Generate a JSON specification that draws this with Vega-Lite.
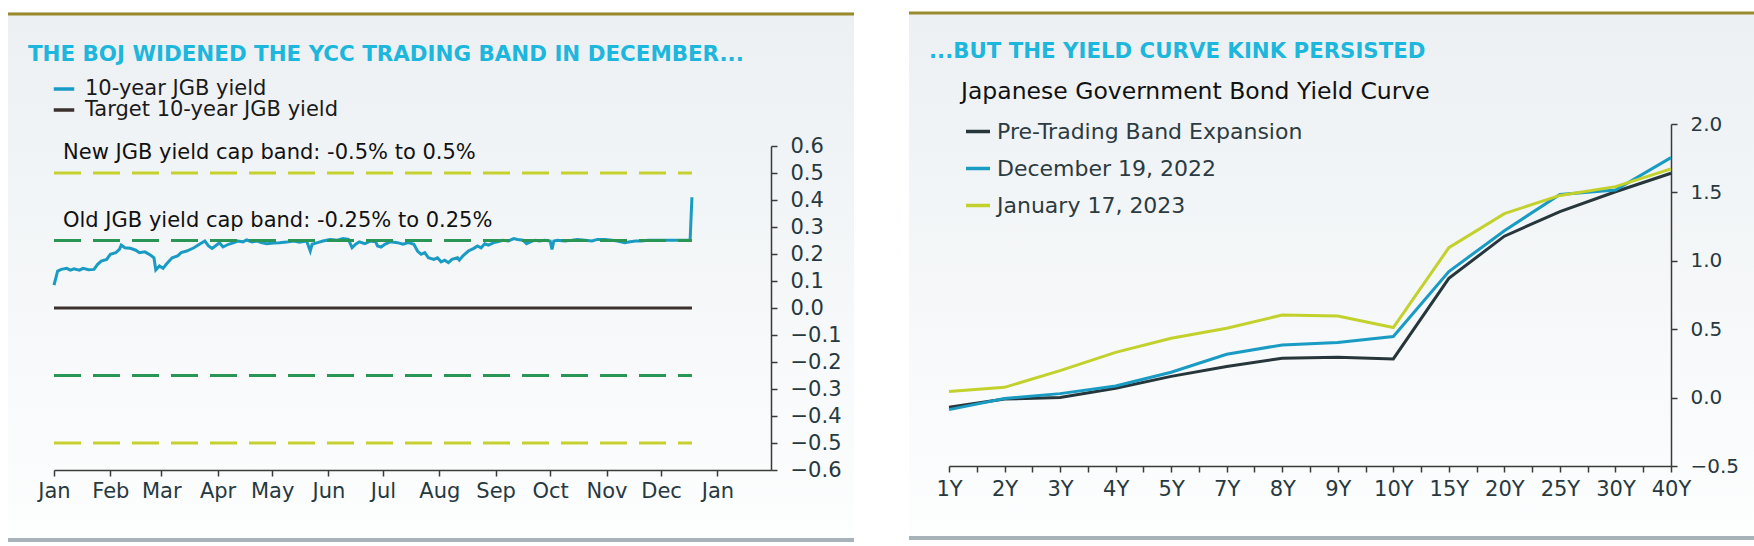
{
  "$schema": "https://vega.github.io/schema/vega-lite/v6.json",
  "padding": {"left": 6, "top": 11, "right": 0, "bottom": 0},
  "bounds": "flush",
  "spacing": 55,
  "background": "white",
  "resolve": {"scale": {"color": "independent"}, "legend": {"color": "independent"}},
  "config": {
    "font": "DejaVu Sans",
    "view": {"stroke": null, "fill": {"gradient": "linear", "x1": 0, "y1": 0, "x2": 0, "y2": 1, "stops": [{"offset": 0, "color": "#ecf0f3"}, {"offset": 1, "color": "#fdfefe"}]}},
    "axis": {"domainColor": "#3a3a3a", "domainWidth": 1.5, "tickColor": "#3a3a3a", "tickWidth": 1.5, "tickSize": 6, "labelColor": "#27393f", "labelFont": "DejaVu Sans", "grid": false, "title": null, "labelFlush": false, "labelOverlap": false}
  },
  "hconcat": [
    {
      "width": 846,
      "height": 529,
      "title": {"text": "THE BOJ WIDENED THE YCC TRADING BAND IN DECEMBER...", "anchor": "start", "frame": "group", "orient": "top", "dx": 20, "dy": 70, "offset": 0, "baseline": "alphabetic", "fontSize": 21.4, "fontWeight": "bold", "color": "#1db6dc", "font": "DejaVu Sans"},
      "layer": [
        {
          "data": {"values": [{}]},
          "mark": {"type": "rule", "color": "#998a2c", "strokeWidth": 3},
          "encoding": {"y": {"datum": 1.0889}}
        },
        {
          "data": {"values": [{}]},
          "mark": {"type": "rule", "color": "#a8b3b9", "strokeWidth": 4},
          "encoding": {"y": {"datum": -0.859}}
        },
        {
          "data": {"values": [
            {"s": "Target 10-year JGB yield", "d": "2022-01-01", "v": 0},
            {"s": "Target 10-year JGB yield", "d": "2022-12-18", "v": 0}
          ]},
          "mark": {"type": "line", "strokeWidth": 3},
          "encoding": {
            "x": {"field": "d", "type": "temporal"},
            "y": {"field": "v", "type": "quantitative"},
            "color": {"field": "s", "type": "nominal"}
          }
        },
        {
          "data": {"values": [
            {"s": "10-year JGB yield", "d": "2022-01-01", "v": 0.085},
            {"s": "10-year JGB yield", "d": "2022-01-03", "v": 0.137},
            {"s": "10-year JGB yield", "d": "2022-01-05", "v": 0.143},
            {"s": "10-year JGB yield", "d": "2022-01-08", "v": 0.147},
            {"s": "10-year JGB yield", "d": "2022-01-10", "v": 0.14},
            {"s": "10-year JGB yield", "d": "2022-01-12", "v": 0.145},
            {"s": "10-year JGB yield", "d": "2022-01-15", "v": 0.14},
            {"s": "10-year JGB yield", "d": "2022-01-17", "v": 0.147},
            {"s": "10-year JGB yield", "d": "2022-01-20", "v": 0.142},
            {"s": "10-year JGB yield", "d": "2022-01-23", "v": 0.143},
            {"s": "10-year JGB yield", "d": "2022-01-25", "v": 0.162},
            {"s": "10-year JGB yield", "d": "2022-01-27", "v": 0.174},
            {"s": "10-year JGB yield", "d": "2022-01-30", "v": 0.18},
            {"s": "10-year JGB yield", "d": "2022-02-01", "v": 0.199},
            {"s": "10-year JGB yield", "d": "2022-02-04", "v": 0.205},
            {"s": "10-year JGB yield", "d": "2022-02-06", "v": 0.217},
            {"s": "10-year JGB yield", "d": "2022-02-07", "v": 0.233},
            {"s": "10-year JGB yield", "d": "2022-02-09", "v": 0.223},
            {"s": "10-year JGB yield", "d": "2022-02-12", "v": 0.221},
            {"s": "10-year JGB yield", "d": "2022-02-15", "v": 0.214},
            {"s": "10-year JGB yield", "d": "2022-02-17", "v": 0.205},
            {"s": "10-year JGB yield", "d": "2022-02-20", "v": 0.208},
            {"s": "10-year JGB yield", "d": "2022-02-23", "v": 0.196},
            {"s": "10-year JGB yield", "d": "2022-02-25", "v": 0.186},
            {"s": "10-year JGB yield", "d": "2022-02-26", "v": 0.141},
            {"s": "10-year JGB yield", "d": "2022-02-28", "v": 0.156},
            {"s": "10-year JGB yield", "d": "2022-03-02", "v": 0.147},
            {"s": "10-year JGB yield", "d": "2022-03-04", "v": 0.164},
            {"s": "10-year JGB yield", "d": "2022-03-07", "v": 0.186},
            {"s": "10-year JGB yield", "d": "2022-03-10", "v": 0.193},
            {"s": "10-year JGB yield", "d": "2022-03-12", "v": 0.205},
            {"s": "10-year JGB yield", "d": "2022-03-15", "v": 0.211},
            {"s": "10-year JGB yield", "d": "2022-03-19", "v": 0.223},
            {"s": "10-year JGB yield", "d": "2022-03-22", "v": 0.236},
            {"s": "10-year JGB yield", "d": "2022-03-25", "v": 0.248},
            {"s": "10-year JGB yield", "d": "2022-03-27", "v": 0.23},
            {"s": "10-year JGB yield", "d": "2022-03-29", "v": 0.221},
            {"s": "10-year JGB yield", "d": "2022-04-01", "v": 0.236},
            {"s": "10-year JGB yield", "d": "2022-04-02", "v": 0.242},
            {"s": "10-year JGB yield", "d": "2022-04-04", "v": 0.226},
            {"s": "10-year JGB yield", "d": "2022-04-07", "v": 0.236},
            {"s": "10-year JGB yield", "d": "2022-04-10", "v": 0.242},
            {"s": "10-year JGB yield", "d": "2022-04-12", "v": 0.248},
            {"s": "10-year JGB yield", "d": "2022-04-15", "v": 0.245},
            {"s": "10-year JGB yield", "d": "2022-04-17", "v": 0.252},
            {"s": "10-year JGB yield", "d": "2022-04-20", "v": 0.245},
            {"s": "10-year JGB yield", "d": "2022-04-23", "v": 0.248},
            {"s": "10-year JGB yield", "d": "2022-04-25", "v": 0.242},
            {"s": "10-year JGB yield", "d": "2022-04-28", "v": 0.238},
            {"s": "10-year JGB yield", "d": "2022-05-02", "v": 0.241},
            {"s": "10-year JGB yield", "d": "2022-05-05", "v": 0.242},
            {"s": "10-year JGB yield", "d": "2022-05-09", "v": 0.244},
            {"s": "10-year JGB yield", "d": "2022-05-13", "v": 0.248},
            {"s": "10-year JGB yield", "d": "2022-05-16", "v": 0.244},
            {"s": "10-year JGB yield", "d": "2022-05-20", "v": 0.248},
            {"s": "10-year JGB yield", "d": "2022-05-22", "v": 0.211},
            {"s": "10-year JGB yield", "d": "2022-05-23", "v": 0.236},
            {"s": "10-year JGB yield", "d": "2022-05-26", "v": 0.242},
            {"s": "10-year JGB yield", "d": "2022-05-29", "v": 0.248},
            {"s": "10-year JGB yield", "d": "2022-06-02", "v": 0.254},
            {"s": "10-year JGB yield", "d": "2022-06-06", "v": 0.251},
            {"s": "10-year JGB yield", "d": "2022-06-09", "v": 0.257},
            {"s": "10-year JGB yield", "d": "2022-06-12", "v": 0.254},
            {"s": "10-year JGB yield", "d": "2022-06-14", "v": 0.223},
            {"s": "10-year JGB yield", "d": "2022-06-16", "v": 0.236},
            {"s": "10-year JGB yield", "d": "2022-06-18", "v": 0.245},
            {"s": "10-year JGB yield", "d": "2022-06-21", "v": 0.238},
            {"s": "10-year JGB yield", "d": "2022-06-24", "v": 0.248},
            {"s": "10-year JGB yield", "d": "2022-06-27", "v": 0.245},
            {"s": "10-year JGB yield", "d": "2022-06-28", "v": 0.23},
            {"s": "10-year JGB yield", "d": "2022-06-30", "v": 0.226},
            {"s": "10-year JGB yield", "d": "2022-07-02", "v": 0.236},
            {"s": "10-year JGB yield", "d": "2022-07-05", "v": 0.245},
            {"s": "10-year JGB yield", "d": "2022-07-09", "v": 0.242},
            {"s": "10-year JGB yield", "d": "2022-07-12", "v": 0.236},
            {"s": "10-year JGB yield", "d": "2022-07-15", "v": 0.242},
            {"s": "10-year JGB yield", "d": "2022-07-18", "v": 0.236},
            {"s": "10-year JGB yield", "d": "2022-07-20", "v": 0.211},
            {"s": "10-year JGB yield", "d": "2022-07-22", "v": 0.199},
            {"s": "10-year JGB yield", "d": "2022-07-24", "v": 0.205},
            {"s": "10-year JGB yield", "d": "2022-07-26", "v": 0.186},
            {"s": "10-year JGB yield", "d": "2022-07-29", "v": 0.18},
            {"s": "10-year JGB yield", "d": "2022-07-31", "v": 0.186},
            {"s": "10-year JGB yield", "d": "2022-08-02", "v": 0.171},
            {"s": "10-year JGB yield", "d": "2022-08-04", "v": 0.177},
            {"s": "10-year JGB yield", "d": "2022-08-06", "v": 0.168},
            {"s": "10-year JGB yield", "d": "2022-08-08", "v": 0.18},
            {"s": "10-year JGB yield", "d": "2022-08-11", "v": 0.186},
            {"s": "10-year JGB yield", "d": "2022-08-12", "v": 0.177},
            {"s": "10-year JGB yield", "d": "2022-08-14", "v": 0.193},
            {"s": "10-year JGB yield", "d": "2022-08-17", "v": 0.211},
            {"s": "10-year JGB yield", "d": "2022-08-20", "v": 0.221},
            {"s": "10-year JGB yield", "d": "2022-08-22", "v": 0.23},
            {"s": "10-year JGB yield", "d": "2022-08-24", "v": 0.223},
            {"s": "10-year JGB yield", "d": "2022-08-26", "v": 0.238},
            {"s": "10-year JGB yield", "d": "2022-08-28", "v": 0.233},
            {"s": "10-year JGB yield", "d": "2022-08-31", "v": 0.242},
            {"s": "10-year JGB yield", "d": "2022-09-02", "v": 0.245},
            {"s": "10-year JGB yield", "d": "2022-09-05", "v": 0.251},
            {"s": "10-year JGB yield", "d": "2022-09-08", "v": 0.248},
            {"s": "10-year JGB yield", "d": "2022-09-11", "v": 0.257},
            {"s": "10-year JGB yield", "d": "2022-09-13", "v": 0.254},
            {"s": "10-year JGB yield", "d": "2022-09-16", "v": 0.251},
            {"s": "10-year JGB yield", "d": "2022-09-18", "v": 0.238},
            {"s": "10-year JGB yield", "d": "2022-09-21", "v": 0.248},
            {"s": "10-year JGB yield", "d": "2022-09-23", "v": 0.251},
            {"s": "10-year JGB yield", "d": "2022-09-25", "v": 0.248},
            {"s": "10-year JGB yield", "d": "2022-09-28", "v": 0.251},
            {"s": "10-year JGB yield", "d": "2022-10-01", "v": 0.248},
            {"s": "10-year JGB yield", "d": "2022-10-02", "v": 0.217},
            {"s": "10-year JGB yield", "d": "2022-10-03", "v": 0.248},
            {"s": "10-year JGB yield", "d": "2022-10-05", "v": 0.251},
            {"s": "10-year JGB yield", "d": "2022-10-09", "v": 0.248},
            {"s": "10-year JGB yield", "d": "2022-10-13", "v": 0.251},
            {"s": "10-year JGB yield", "d": "2022-10-16", "v": 0.254},
            {"s": "10-year JGB yield", "d": "2022-10-20", "v": 0.251},
            {"s": "10-year JGB yield", "d": "2022-10-24", "v": 0.248},
            {"s": "10-year JGB yield", "d": "2022-10-27", "v": 0.254},
            {"s": "10-year JGB yield", "d": "2022-10-31", "v": 0.254},
            {"s": "10-year JGB yield", "d": "2022-11-04", "v": 0.251},
            {"s": "10-year JGB yield", "d": "2022-11-07", "v": 0.248},
            {"s": "10-year JGB yield", "d": "2022-11-11", "v": 0.242},
            {"s": "10-year JGB yield", "d": "2022-11-14", "v": 0.245},
            {"s": "10-year JGB yield", "d": "2022-11-17", "v": 0.248},
            {"s": "10-year JGB yield", "d": "2022-11-20", "v": 0.248},
            {"s": "10-year JGB yield", "d": "2022-11-24", "v": 0.251},
            {"s": "10-year JGB yield", "d": "2022-11-29", "v": 0.251},
            {"s": "10-year JGB yield", "d": "2022-12-05", "v": 0.251},
            {"s": "10-year JGB yield", "d": "2022-12-10", "v": 0.251},
            {"s": "10-year JGB yield", "d": "2022-12-17", "v": 0.252},
            {"s": "10-year JGB yield", "d": "2022-12-18", "v": 0.41}
          ]},
          "mark": {"type": "line", "strokeWidth": 3},
          "encoding": {
            "x": {
              "field": "d", "type": "temporal",
              "scale": {"type": "utc", "domain": [{"year": 2022, "month": 1, "date": 1, "utc": true}, {"year": 2023, "month": 1, "date": 30, "hours": 12, "utc": true}], "range": [46, 763]},
              "axis": {"orient": "bottom", "offset": -71, "format": "%b", "tickCount": {"interval": "month", "step": 1}, "labelFontSize": 21, "labelPadding": 4, "title": null}
            },
            "y": {
              "field": "v", "type": "quantitative",
              "scale": {"domain": [-0.6, 0.6], "range": [458, 134], "nice": false, "zero": false},
              "axis": {"orient": "right", "offset": -83, "values": [-0.6, -0.5, -0.4, -0.3, -0.2, -0.1, 0, 0.1, 0.2, 0.3, 0.4, 0.5, 0.6], "format": ".1f", "labelFontSize": 21, "labelPadding": 13, "title": null}
            },
            "color": {
              "field": "s", "type": "nominal",
              "scale": {"domain": ["10-year JGB yield", "Target 10-year JGB yield"], "range": ["#1a9bc4", "#3b312e"]},
              "legend": {"orient": "none", "legendX": 44, "legendY": 67, "title": null, "labelFontSize": 21, "labelColor": "#1a1a1a", "symbolType": "stroke", "symbolSize": 420, "symbolStrokeWidth": 3.5, "labelOffset": 9, "rowPadding": 0, "clipHeight": 20, "padding": 0, "labelLimit": 600}
            }
          }
        },
        {
          "data": {"values": [
            {"band": "new", "v": 0.5, "a": "2022-01-01", "b": "2022-12-18"},
            {"band": "new", "v": -0.5, "a": "2022-01-01", "b": "2022-12-18"},
            {"band": "old", "v": 0.25, "a": "2022-01-01", "b": "2022-12-18"},
            {"band": "old", "v": -0.25, "a": "2022-01-01", "b": "2022-12-18"}
          ]},
          "mark": {"type": "rule", "strokeWidth": 3, "strokeDash": [27, 12]},
          "encoding": {
            "x": {"field": "a", "type": "temporal"},
            "x2": {"field": "b"},
            "y": {"field": "v", "type": "quantitative"},
            "stroke": {"field": "band", "type": "nominal", "scale": {"domain": ["new", "old"], "range": ["#c5d12e", "#2a9656"]}, "legend": null}
          }
        },
        {
          "data": {"values": [
            {"t": "New JGB yield cap band: -0.5% to 0.5%", "a": "2022-01-01", "v": 0.5},
            {"t": "Old JGB yield cap band: -0.25% to 0.25%", "a": "2022-01-01", "v": 0.25}
          ]},
          "mark": {"type": "text", "align": "left", "baseline": "alphabetic", "dx": 9, "dy": -14, "fontSize": 21, "color": "#111111"},
          "encoding": {
            "x": {"field": "a", "type": "temporal"},
            "y": {"field": "v", "type": "quantitative"},
            "text": {"field": "t"}
          }
        }
      ]
    },
    {
      "width": 847,
      "height": 526,
      "title": {"text": "...BUT THE YIELD CURVE KINK PERSISTED", "anchor": "start", "frame": "group", "orient": "top", "dx": 20, "dy": 68, "offset": 0, "baseline": "alphabetic", "fontSize": 21.3, "fontWeight": "bold", "color": "#1db6dc", "font": "DejaVu Sans"},
      "resolve": {"scale": {"x": "independent"}, "axis": {"x": "independent"}},
      "layer": [
        {
          "data": {"values": [{}]},
          "mark": {"type": "rule", "color": "#998a2c", "strokeWidth": 3},
          "encoding": {"y": {"datum": 2.811}}
        },
        {
          "data": {"values": [{}]},
          "mark": {"type": "rule", "color": "#a8b3b9", "strokeWidth": 4},
          "encoding": {"y": {"datum": -1.027}}
        },
        {
          "data": {"values": [
            {"c": "Pre-Trading Band Expansion", "t": "1Y", "v": -0.07},
            {"c": "Pre-Trading Band Expansion", "t": "2Y", "v": -0.01},
            {"c": "Pre-Trading Band Expansion", "t": "3Y", "v": 0.0},
            {"c": "Pre-Trading Band Expansion", "t": "4Y", "v": 0.068},
            {"c": "Pre-Trading Band Expansion", "t": "5Y", "v": 0.155},
            {"c": "Pre-Trading Band Expansion", "t": "7Y", "v": 0.227},
            {"c": "Pre-Trading Band Expansion", "t": "8Y", "v": 0.288},
            {"c": "Pre-Trading Band Expansion", "t": "9Y", "v": 0.295},
            {"c": "Pre-Trading Band Expansion", "t": "10Y", "v": 0.283},
            {"c": "Pre-Trading Band Expansion", "t": "15Y", "v": 0.872},
            {"c": "Pre-Trading Band Expansion", "t": "20Y", "v": 1.18},
            {"c": "Pre-Trading Band Expansion", "t": "25Y", "v": 1.36},
            {"c": "Pre-Trading Band Expansion", "t": "30Y", "v": 1.505},
            {"c": "Pre-Trading Band Expansion", "t": "40Y", "v": 1.64},
            {"c": "December 19, 2022", "t": "1Y", "v": -0.088},
            {"c": "December 19, 2022", "t": "2Y", "v": -0.007},
            {"c": "December 19, 2022", "t": "3Y", "v": 0.029},
            {"c": "December 19, 2022", "t": "4Y", "v": 0.085},
            {"c": "December 19, 2022", "t": "5Y", "v": 0.185},
            {"c": "December 19, 2022", "t": "7Y", "v": 0.317},
            {"c": "December 19, 2022", "t": "8Y", "v": 0.385},
            {"c": "December 19, 2022", "t": "9Y", "v": 0.402},
            {"c": "December 19, 2022", "t": "10Y", "v": 0.446},
            {"c": "December 19, 2022", "t": "15Y", "v": 0.921},
            {"c": "December 19, 2022", "t": "20Y", "v": 1.22},
            {"c": "December 19, 2022", "t": "25Y", "v": 1.485},
            {"c": "December 19, 2022", "t": "30Y", "v": 1.518},
            {"c": "December 19, 2022", "t": "40Y", "v": 1.754},
            {"c": "January 17, 2023", "t": "1Y", "v": 0.044},
            {"c": "January 17, 2023", "t": "2Y", "v": 0.075},
            {"c": "January 17, 2023", "t": "3Y", "v": 0.197},
            {"c": "January 17, 2023", "t": "4Y", "v": 0.331},
            {"c": "January 17, 2023", "t": "5Y", "v": 0.434},
            {"c": "January 17, 2023", "t": "7Y", "v": 0.507},
            {"c": "January 17, 2023", "t": "8Y", "v": 0.604},
            {"c": "January 17, 2023", "t": "9Y", "v": 0.597},
            {"c": "January 17, 2023", "t": "10Y", "v": 0.512},
            {"c": "January 17, 2023", "t": "15Y", "v": 1.096},
            {"c": "January 17, 2023", "t": "20Y", "v": 1.345},
            {"c": "January 17, 2023", "t": "25Y", "v": 1.478},
            {"c": "January 17, 2023", "t": "30Y", "v": 1.542},
            {"c": "January 17, 2023", "t": "40Y", "v": 1.672}
          ]},
          "mark": {"type": "line", "strokeWidth": 3},
          "encoding": {
            "x": {
              "field": "t", "type": "ordinal",
              "scale": {"type": "point", "domain": ["1Y", "2Y", "3Y", "4Y", "5Y", "7Y", "8Y", "9Y", "10Y", "15Y", "20Y", "25Y", "30Y", "40Y"], "range": [40, 762], "padding": 0},
              "axis": {"orient": "bottom", "offset": -72, "labelAngle": 0, "labelFontSize": 21, "labelPadding": 6, "title": null}
            },
            "y": {
              "field": "v", "type": "quantitative",
              "scale": {"domain": [-0.5, 2.0], "range": [454, 112], "nice": false, "zero": false},
              "axis": {"orient": "right", "offset": -85, "values": [-0.5, 0, 0.5, 1, 1.5, 2], "format": ".1f", "labelFontSize": 20, "labelPadding": 13, "title": null}
            },
            "color": {
              "field": "c", "type": "nominal",
              "scale": {"domain": ["Pre-Trading Band Expansion", "December 19, 2022", "January 17, 2023"], "range": ["#26363b", "#1a9bc4", "#c3d12c"]},
              "legend": {"orient": "none", "legendX": 52, "legendY": 68, "title": "Japanese Government Bond Yield Curve", "titleFontSize": 23.5, "titleColor": "#111111", "titleFontWeight": "normal", "titlePadding": 16, "titleLimit": 800, "labelFontSize": 22, "labelColor": "#2c3b41", "symbolType": "stroke", "symbolSize": 576, "symbolStrokeWidth": 3.5, "symbolOffset": 3, "labelOffset": 5, "rowPadding": 13, "clipHeight": 24, "padding": 0, "labelLimit": 600}
            }
          }
        },
        {
          "data": {"values": [{}]},
          "mark": {"type": "point", "opacity": 0},
          "encoding": {
            "x": {
              "datum": 0, "type": "quantitative",
              "scale": {"domain": [0, 13], "range": [40, 762], "nice": false, "zero": false},
              "axis": {"orient": "bottom", "offset": -72, "values": [0.5, 1.5, 2.5, 3.5, 4.5, 5.5, 6.5, 7.5, 8.5, 9.5, 10.5, 11.5, 12.5], "labels": false, "domain": false, "tickSize": 6, "title": null}
            }
          }
        }
      ]
    }
  ]
}
